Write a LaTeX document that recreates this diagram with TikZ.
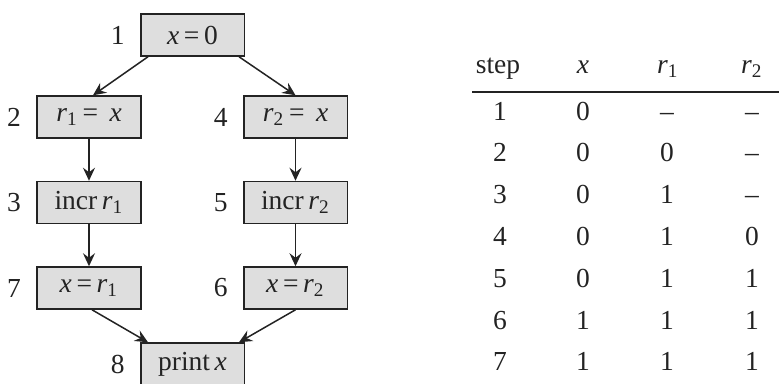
\documentclass[tikz,border=0pt]{standalone}
\usepackage{fontspec}
\setmainfont{Liberation Serif}
\usetikzlibrary{positioning,arrows.meta}
\definecolor{boxgray}{RGB}{222,222,222}
\definecolor{inkgray}{RGB}{35,35,35}
\newcommand{\var}[1]{\textit{#1}}

\begin{document}
\begin{tikzpicture}[x=0.4pt, y=-0.4pt, node distance=16.8pt,
    every node/.style={font=\fontsize{11}{13}\selectfont, text=inkgray},
    stmt/.style={draw=inkgray, line width=0.6pt, fill=boxgray, minimum width=41.4pt, minimum height=16.8pt, inner sep=1pt},
    stepno/.style={inner sep=0pt},
    flow/.style={-{Stealth[length=5.2pt,width=4.8pt,inset=1.8pt]}, line width=0.6pt, draw=inkgray},
    cell/.style={anchor=base, inner sep=0pt}]
  \useasboundingbox (0,0) rectangle (779,383);

  % program graph
  \node[stmt] (n1) at (192.5,35) {\var{x}\,=\,0};
  \node[stmt] (n2) at (89,117) {\var{r}\textsubscript{1}\,= \,\var{x}};
  \node[stmt,below=of n2] (n3) {incr\,\var{r}\textsubscript{1}};
  \node[stmt,below=of n3] (n7) {\var{x}\,=\,\var{r}\textsubscript{1}};
  \node[stmt] (n4) at (295.5,117) {\var{r}\textsubscript{2}\,= \,\var{x}};
  \node[stmt,below=of n4] (n5) {incr\,\var{r}\textsubscript{2}};
  \node[stmt,below=of n5] (n6) {\var{x}\,=\,\var{r}\textsubscript{2}};
  \node[stmt] (n8) at (192.5,364) {print\,\var{x}};

  \node[stepno,left=6pt of n1] (l1) {1};
  \node[stepno,left=6pt of n2] (l2) {2};
  \node[stepno,left=6pt of n3] (l3) {3};
  \node[stepno,left=6pt of n7] (l7) {7};
  \node[stepno,left=6pt of n4] (l4) {4};
  \node[stepno,left=6pt of n5] (l5) {5};
  \node[stepno,left=6pt of n6] (l6) {6};
  \node[stepno,left=6pt of n8] (l8) {8};

  \draw[flow] ([xshift=3.2pt]n1.south west) -- ([xshift=1.6pt]n2.north);
  \draw[flow] ([xshift=-2.4pt]n1.south east) -- (n4.north);
  \draw[flow] (n2) -- (n3);
  \draw[flow] (n3) -- (n7);
  \draw[flow] (n4) -- (n5);
  \draw[flow] (n5) -- (n6);
  \draw[flow] ([xshift=1.2pt]n7.south) -- ([xshift=3.2pt]n8.north west);
  \draw[flow] (n6.south) -- ([xshift=-2.4pt]n8.north east);

  % trace table
  \node[cell] (hstep) at (498,73) {step};
  \node[cell] (hx) at (583,73) {\var{x}};
  \node[cell] (hr1) at (668,73) {\var{r}\textsubscript{1}};
  \node[cell] (hr2) at (752,73) {\var{r}\textsubscript{2}};
  \coordinate (rulel) at (472,92);
  \coordinate (ruler) at (779,92);
  \draw[line width=0.8pt, draw=inkgray] (rulel) -- (ruler);

  \foreach \s/\xv/\ra/\rb [count=\i] in {1/0/--/--, 2/0/0/--, 3/0/1/--, 4/0/1/0, 5/0/1/1, 6/1/1/1, 7/1/1/1} {
    \node[cell] (s\i) at (500,78.2+41.8*\i) {\s};
    \node[cell] (x\i) at (583,78.2+41.8*\i) {\xv};
    \node[cell] (a\i) at (667,78.2+41.8*\i) {\ra};
    \node[cell] (b\i) at (752,78.2+41.8*\i) {\rb};
  }
\end{tikzpicture}
\end{document}
